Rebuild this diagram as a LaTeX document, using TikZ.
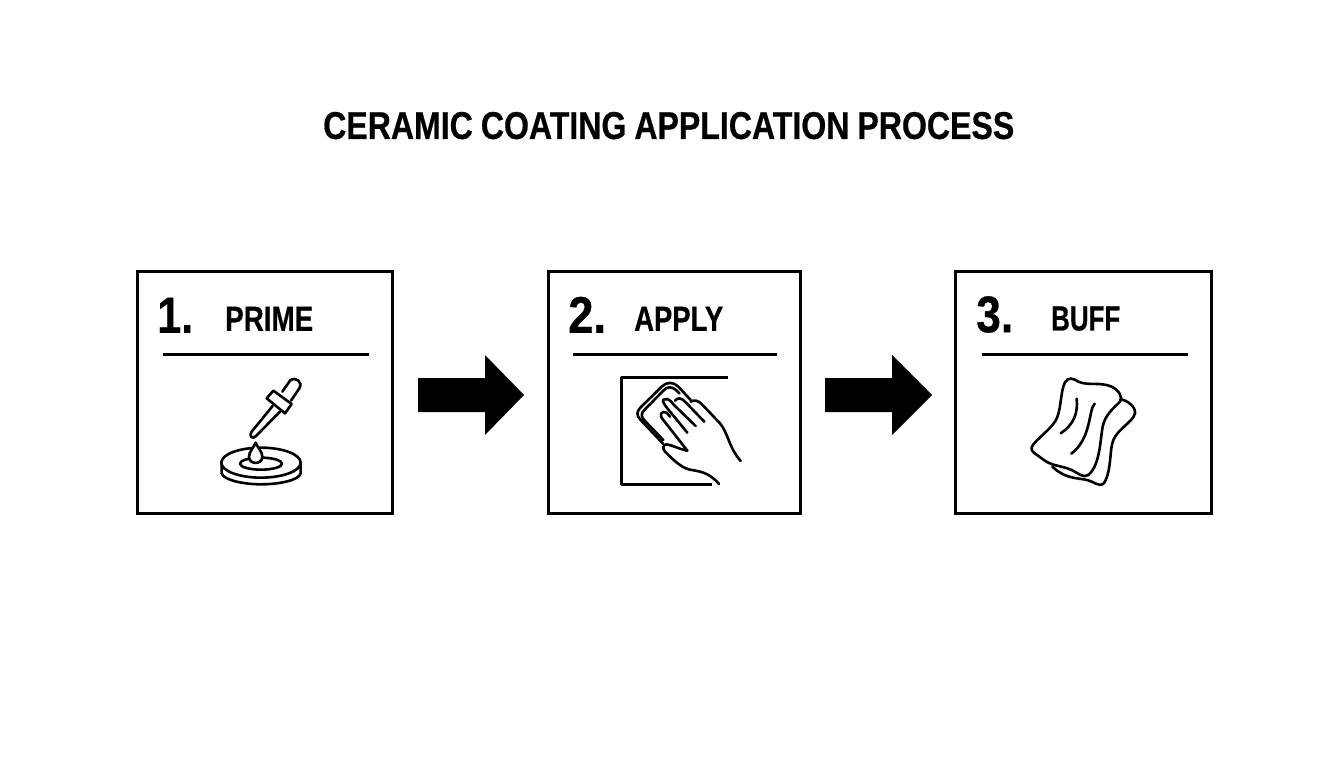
\documentclass[tikz,border=0pt]{standalone}
\usepackage{fontspec}
\setmainfont[WordSpace=0.9,BoldFeatures={FakeBold=0.6}]{Liberation Sans}
\usepackage{graphicx}
\newcommand{\fittext}[3]{\resizebox{#1pt}{#2pt}{\bfseries #3}}
\tikzset{
  panel/.style={draw=black,line width=3pt,fill=white,minimum width=#1,minimum height=242pt,inner sep=0pt},
  label/.style={anchor=south west,inner sep=0pt,text=black},
  rulebar/.style={line width=3pt,draw=black},
  bigarrow/.style={fill=black,draw=none},
  icon/.style={line width=2.6pt,draw=black,line cap=round,line join=round},
  zoomed/.style={x=0.3333pt,y=-0.3333pt}
}
\begin{document}
\begin{tikzpicture}[x=1pt,y=-1pt]
\useasboundingbox (0,0) rectangle (1344,768);
\fill[white] (0,0) rectangle (1344,768);
\node[label] (title) at (323,139.5) {\fittext{691}{27}{CERAMIC COATING APPLICATION PROCESS}};
% panels
\node[panel=255pt] (p1) at (265,392.5) {};
\node[panel=252pt] (p2) at (674.5,392.5) {};
\node[panel=256pt] (p3) at (1083.5,392.5) {};
% heads
\node[label] (n1) at (157,333) {\fittext{36}{35}{1.}};
\node[label] (t1) at (225,331) {\fittext{88}{24}{PRIME}};
\node[label] (n2) at (568,333) {\fittext{38}{36}{2.}};
\node[label] (t2) at (634,331) {\fittext{89}{24}{APPLY}};
\node[label] (n3) at (976,333) {\fittext{37}{36}{3.}};
\node[label] (t3) at (1051,331) {\fittext{69}{24}{BUFF}};
\draw[rulebar] (163,354) -- (369,354);
\draw[rulebar] (573,354) -- (777,354);
\draw[rulebar] (982,354) -- (1188,354);
% arrows
\fill[bigarrow] (418,378) -- (485,378) -- (485,355) -- (524,395) -- (485,435) -- (485,412) -- (418,412) -- cycle;
\fill[bigarrow] (825,378) -- (892,378) -- (892,355) -- (932,395) -- (892,435) -- (892,412) -- (825,412) -- cycle;
% dropper icon
\begin{scope}[shift={(190,360)},zoomed]
\draw[icon] (95,310) -- (95,340) .. controls (100,360) and (160,373) .. (213,373) .. controls (270,373) and (328,360) .. (332,340) -- (332,310);
\draw[icon] (213,308) ellipse [x radius=119,y radius=45];
\draw[icon] (213,311) ellipse [x radius=63,y radius=18];
\draw[icon,fill=white] (197,248) .. controls (190,265) and (177,275) .. (177,290) .. controls (177,315) and (217,315) .. (217,290) .. controls (217,275) and (204,265) .. (197,248) -- cycle;
\draw[icon,fill=white] (248,138) -- (185,215) .. controls (175,228) and (188,240) .. (198,228) -- (270,155);
\draw[icon,fill=white] (277,95) -- (300,62) .. controls (315,48) and (340,65) .. (328,85) -- (303,122);
\draw[icon,fill=white] (230,115) -- (250,92) -- (305,132) -- (285,160) -- cycle;
\end{scope}
% hand icon
\begin{scope}[shift={(600,360)},zoomed]
\draw[icon,line width=3pt,line cap=butt] (383,53) -- (63,53) -- (63,375) -- (337,375);
\draw[icon] (190,252) -- (122,180) .. controls (108,165) and (110,155) .. (122,142) -- (185,80) .. controls (200,65) and (220,65) .. (235,80) -- (272,120);
\draw[icon] (190,240) -- (135,183) .. controls (122,170) and (122,160) .. (135,148) -- (190,92) .. controls (200,80) and (215,78) .. (228,90) -- (238,100);
\draw[icon] (262,218) -- (198,140) .. controls (188,125) and (185,118) .. (195,118) .. controls (205,115) and (212,122) .. (222,135) -- (287,198);
\draw[icon] (225,122) .. controls (232,112) and (245,113) .. (255,125) -- (313,185);
\draw[icon] (272,125) .. controls (282,118) and (295,122) .. (305,132) -- (360,190) .. controls (385,220) and (385,260) .. (422,303);
\draw[icon] (262,272) -- (190,180) .. controls (175,165) and (185,150) .. (200,158) -- (210,170);
\draw[icon] (262,272) .. controls (240,268) and (215,255) .. (200,253) .. controls (188,255) and (187,265) .. (195,275) .. controls (215,295) and (240,320) .. (265,328) .. controls (300,335) and (325,335) .. (357,372);
\end{scope}
% cloth icon
\begin{scope}[shift={(1010,360)},zoomed]
\draw[icon] (332,118) .. controls (350,120) and (378,140) .. (375,160) .. controls (370,185) and (325,205) .. (310,240) .. controls (298,270) and (305,325) .. (285,365) .. controls (278,380) and (265,375) .. (245,365) .. controls (215,350) and (175,365) .. (127,320);
\draw[icon] (65,262) .. controls (70,245) and (115,215) .. (135,185) .. controls (155,155) and (150,95) .. (165,67) .. controls (175,50) and (190,55) .. (205,65) .. controls (235,78) and (270,65) .. (305,80) .. controls (325,90) and (340,110) .. (330,125) .. controls (310,145) and (285,165) .. (278,200) .. controls (270,245) and (270,315) .. (235,345) .. controls (220,355) and (205,340) .. (185,330) .. controls (150,315) and (125,320) .. (95,295) .. controls (80,283) and (60,275) .. (65,262) -- cycle;
\draw[icon] (200,116) .. controls (205,160) and (190,195) .. (152,220);
\draw[icon] (254,131) .. controls (235,150) and (245,235) .. (184,281);
\end{scope}
\end{tikzpicture}
\end{document}
